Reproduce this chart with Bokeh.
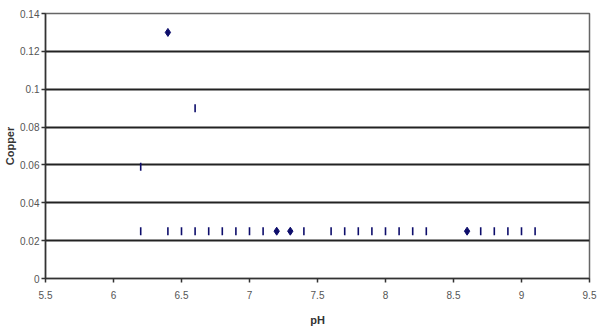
import math
from bokeh.plotting import figure
from bokeh.models import ColumnDataSource, FixedTicker, Range1d
from bokeh.embed import file_html
from bokeh.resources import INLINE

# Data
dash_ph = [6.2, 6.6, 6.2, 6.4, 6.5, 6.6, 6.7, 6.8, 6.9, 7.0, 7.1, 7.4, 7.6, 7.7, 7.8,
           7.9, 8.0, 8.1, 8.2, 8.3, 8.7, 8.8, 8.9, 9.0, 9.1]
dash_cu = [0.059, 0.09, 0.025, 0.025, 0.025, 0.025, 0.025, 0.025, 0.025, 0.025, 0.025,
           0.025, 0.025, 0.025, 0.025, 0.025, 0.025, 0.025, 0.025, 0.025, 0.025, 0.025,
           0.025, 0.025, 0.025]
diamond_ph = [6.4, 7.2, 7.3, 8.6]
diamond_cu = [0.13, 0.025, 0.025, 0.025]

x_ticks = [5.5, 6.0, 6.5, 7.0, 7.5, 8.0, 8.5, 9.0, 9.5]
x_tick_labels = ["5.5", "6", "6.5", "7", "7.5", "8", "8.5", "9", "9.5"]
y_ticks = [0.0, 0.02, 0.04, 0.06, 0.08, 0.10, 0.12, 0.14]
y_tick_labels = ["0", "0.02", "0.04", "0.06", "0.08", "0.1", "0.12", "0.14"]

navy = "#0d0d6b"
font = "Liberation Sans"

p = figure(width=599, height=336, output_backend="svg", toolbar_location=None,
           x_range=Range1d(5.5, 9.5), y_range=Range1d(0, 0.14),
           min_border_left=45, min_border_right=10, min_border_top=13,
           min_border_bottom=58, background_fill_color="white",
           border_fill_color="white")
p.outline_line_color = "#666666"
p.outline_line_width = 1.5

p.scatter(dash_ph, dash_cu, marker="dash", angle=math.pi / 2, size=8,
          line_color=navy, line_width=1.6)
p.scatter(diamond_ph, diamond_cu, marker="diamond", size=8,
          fill_color=navy, line_color=navy)

p.xaxis.ticker = FixedTicker(ticks=x_ticks)
p.yaxis.ticker = FixedTicker(ticks=y_ticks)
p.xaxis.major_label_overrides = {t: l for t, l in zip(x_ticks, x_tick_labels)}
p.yaxis.major_label_overrides = {t: l for t, l in zip(y_ticks, y_tick_labels)}

for ax in (p.xaxis, p.yaxis):
    ax.axis_line_color = "#333333"
    ax.axis_line_width = 1.5
    ax.major_tick_line_color = "#333333"
    ax.major_tick_line_width = 1.5
    ax.major_tick_in = 0
    ax.major_tick_out = 4
    ax.minor_tick_line_color = None
    ax.major_label_text_font = font
    ax.major_label_text_font_size = "10px"
    ax.major_label_text_color = "#555555"
    ax.axis_label_text_font = font
    ax.axis_label_text_font_size = "11px"
    ax.axis_label_text_font_style = "bold"
    ax.axis_label_text_color = "#333333"

p.xaxis.axis_label = "pH"
p.yaxis.axis_label = "Copper"
p.xaxis.major_label_standoff = 8
p.xaxis.axis_label_standoff = 12
p.yaxis.major_label_standoff = 2
p.yaxis.axis_label_standoff = 1

p.xgrid.grid_line_color = None
p.ygrid.grid_line_color = "#222222"
p.ygrid.grid_line_width = 2

open("out.html", "w").write(file_html(p, INLINE))
